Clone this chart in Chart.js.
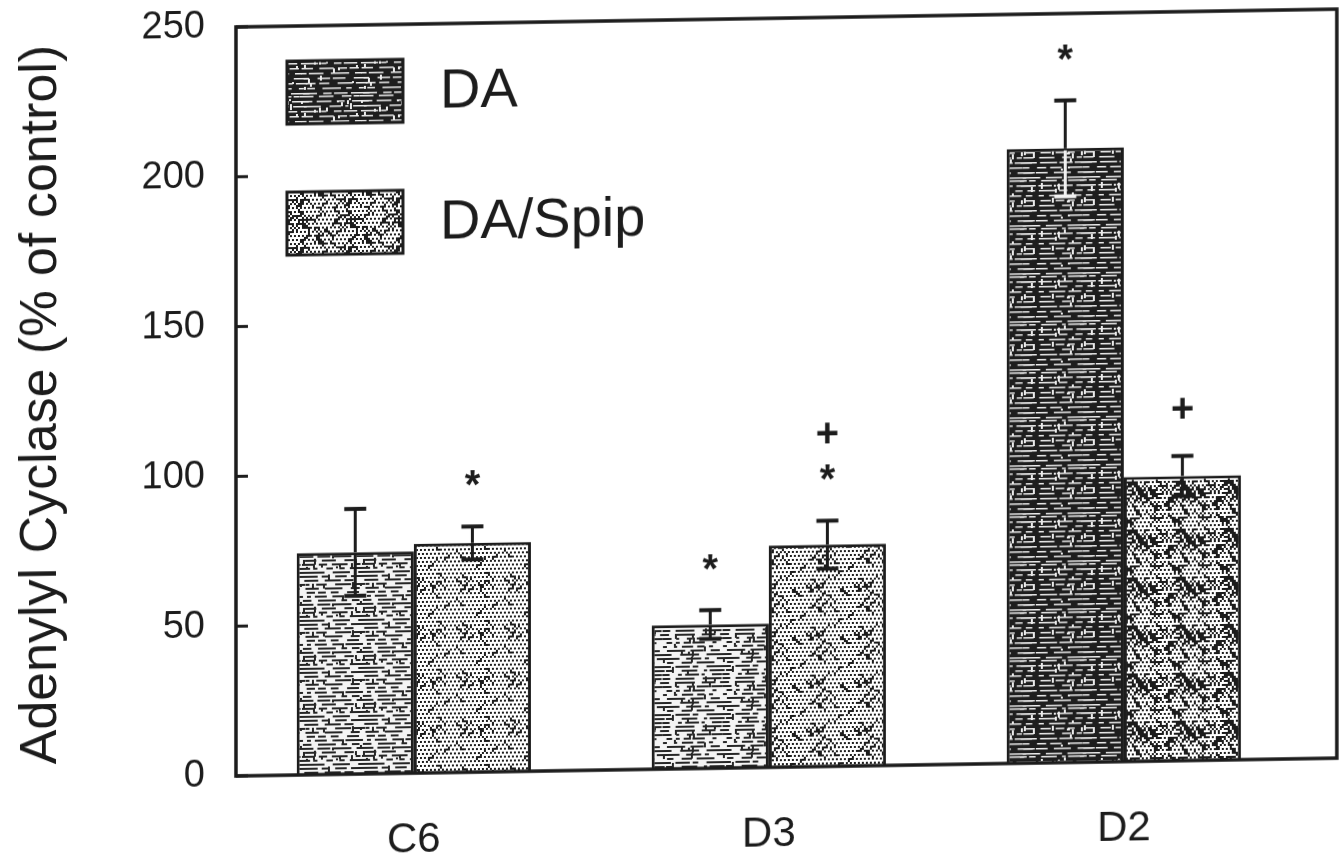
<!DOCTYPE html>
<html>
<head>
<meta charset="utf-8">
<script src="https://cdn.jsdelivr.net/npm/chart.js@4.4.1/dist/chart.umd.min.js"></script>
<style>
  html, body { margin: 0; padding: 0; background: #fff; }
  #wrap { width: 1343px; height: 866px; position: relative; }
  #myChart { transform: skewY(-0.93deg); transform-origin: 236px 0; }
</style>
</head>
<body>
<div id="wrap"><canvas id="myChart"></canvas></div>
<script>
const categories = ['C6', 'D3', 'D2'];
const daValues = [74, 48, 205];
const daErr = [14.5, 4.8, 16];
const spipValues = [76.5, 74, 95];
const spipErr = [5.5, 8, 6.7];
// significance symbols, listed from the bar upwards
const daMarks = [[], ['*'], ['*']];
const spipMarks = [['*'], ['*', '+'], ['+']];
const yTicks = [0, 50, 100, 150, 200, 250];

const INK = '#1c1c1c';
const FONT = '"Liberation Sans", Arial, sans-serif';

// little texture tiles, fill patterns for the bars
function seeded(s) {
  return function() { s = (s * 16807) % 2147483647; return s / 2147483647; };
}
function mazeTile(bg, fg, seed, rowGap, thick) {
  const c = document.createElement('canvas');
  c.width = 60; c.height = 48;
  const g = c.getContext('2d');
  const rnd = seeded(seed);
  g.fillStyle = bg; g.fillRect(0, 0, 60, 48);
  g.fillStyle = fg;
  for (let row = 0; row < 48; row += rowGap) {
    let x = rnd() * 8;
    while (x < 60) {
      const len = 3 + rnd() * 16;
      g.fillRect(x, row + 1, len, thick);
      if (x + len > 60) g.fillRect(x - 60, row + 1, len, thick);
      x += len + 2 + rnd() * 7;
    }
  }
  for (let i = 0; i < 18; i++) {
    g.fillRect(Math.floor(rnd() * 58), Math.floor(rnd() * 44), 2, 2 + Math.floor(rnd() * 5));
  }
  return g.createPattern(c, 'repeat');
}
function dotTile(density, seed) {
  const c = document.createElement('canvas');
  c.width = 48; c.height = 48;
  const g = c.getContext('2d');
  const rnd = seeded(seed);
  g.fillStyle = '#fff'; g.fillRect(0, 0, 48, 48);
  g.fillStyle = INK;
  for (let y = 0; y < 48; y += 4) {
    for (let x = (y / 4) % 2 ? 2 : 0; x < 48; x += 4) g.fillRect(x, y, 2, 2);
  }
  // diagonal zig-zag strokes
  for (let k = 0; k < density; k++) {
    const x0 = Math.floor(rnd() * 24) * 2, y0 = Math.floor(rnd() * 24) * 2;
    const dir = rnd() < 0.5 ? 1 : -1;
    for (let i = 0; i < 4; i++) {
      const x = (x0 + dir * i * 2 + 48) % 48, y = (y0 + i * 2) % 48;
      g.fillRect(x, y, 2, 2);
    }
  }
  return g.createPattern(c, 'repeat');
}

const daFill = [mazeTile('#f4f4f4', '#262626', 7, 4, 2), mazeTile('#f4f4f4', '#262626', 19, 4, 2), mazeTile('#1e1e1e', '#ececec', 31, 5, 1.5)];
const spipFill = [dotTile(14, 3), dotTile(18, 11), dotTile(55, 23)];
const legendFill = [mazeTile('#1e1e1e', '#ececec', 43, 5, 1.5), dotTile(40, 5)];
// whisker colour below the bar top (light on the dark bar)
const daWhiskerIn = [INK, INK, '#f2f2f2'];
const spipWhiskerIn = [INK, INK, INK];

const frame = {
  id: 'frame',
  afterDatasetsDraw(chart) {
    const ctx = chart.ctx, a = chart.chartArea, y = chart.scales.y;
    ctx.save();
    ctx.strokeStyle = INK;
    ctx.lineWidth = 3.5;
    ctx.strokeRect(a.left, a.top, a.right - a.left, a.bottom - a.top);
    ctx.lineWidth = 3;
    yTicks.forEach(v => {
      const py = y.getPixelForValue(v);
      ctx.beginPath(); ctx.moveTo(a.left, py); ctx.lineTo(a.left + 12, py); ctx.stroke();
    });
    ctx.restore();
  }
};

const errorBars = {
  id: 'errorBars',
  afterDatasetsDraw(chart) {
    const ctx = chart.ctx, y = chart.scales.y;
    ctx.save();
    chart.data.datasets.forEach((ds, i) => {
      chart.getDatasetMeta(i).data.forEach((bar, j) => {
        const v = ds.data[j].y, e = ds.errors[j];
        const hi = y.getPixelForValue(v + e), top = y.getPixelForValue(v), lo = y.getPixelForValue(v - e);
        ctx.strokeStyle = INK;
        ctx.lineWidth = 3;
        ctx.beginPath(); ctx.moveTo(bar.x, hi); ctx.lineTo(bar.x, top); ctx.stroke();
        ctx.lineWidth = 4;
        ctx.beginPath(); ctx.moveTo(bar.x - 11, hi); ctx.lineTo(bar.x + 11, hi); ctx.stroke();
        ctx.strokeStyle = ds.whiskerIn[j];
        ctx.lineWidth = 3;
        ctx.beginPath(); ctx.moveTo(bar.x, top + 2); ctx.lineTo(bar.x, lo); ctx.stroke();
        ctx.lineWidth = 4;
        ctx.beginPath(); ctx.moveTo(bar.x - 11, lo); ctx.lineTo(bar.x + 11, lo); ctx.stroke();

        ctx.fillStyle = INK;
        ctx.font = 'bold 40px ' + FONT;
        ctx.textAlign = 'center';
        ctx.textBaseline = 'alphabetic';
        ds.marks[j].forEach((s, k) => {
          const m = ctx.measureText(s);
          const cy = hi - 48 - k * 40;
          ctx.fillText(s, bar.x, cy + (m.actualBoundingBoxAscent - m.actualBoundingBoxDescent) / 2);
        });
      });
    });
    ctx.restore();
  }
};

const boxLegend = {
  id: 'boxLegend',
  afterDraw(chart) {
    const ctx = chart.ctx, a = chart.chartArea;
    ctx.save();
    chart.data.datasets.forEach((ds, i) => {
      const x = a.left + 51, top = a.top + 35 + i * 131;
      ctx.fillStyle = legendFill[i];
      ctx.fillRect(x, top, 116, 63);
      ctx.strokeStyle = INK;
      ctx.lineWidth = 3;
      ctx.strokeRect(x, top, 116, 63);
      ctx.fillStyle = INK;
      ctx.font = '56px ' + FONT;
      ctx.textAlign = 'left';
      ctx.textBaseline = 'middle';
      ctx.fillText(ds.label, x + 153, top + 34);
    });
    ctx.restore();
  }
};

function draw() {
  const ctx = document.getElementById('myChart');
  new Chart(ctx, {
    type: 'bar',
    data: {
      datasets: [{
        label: 'DA',
        data: daValues.map((v, i) => ({ x: i, y: v })),
        errors: daErr,
        marks: daMarks,
        whiskerIn: daWhiskerIn,
        backgroundColor: daFill,
        borderColor: INK,
        borderWidth: 3
      }, {
        label: 'DA/Spip',
        data: spipValues.map((v, i) => ({ x: i, y: v })),
        errors: spipErr,
        marks: spipMarks,
        whiskerIn: spipWhiskerIn,
        backgroundColor: spipFill,
        borderColor: INK,
        borderWidth: 3
      }]
    },
    options: {
      responsive: true,
      maintainAspectRatio: false,
      animation: false,
      categoryPercentage: 0.66,
      barPercentage: 1,
      layout: { padding: { top: 27, right: 6, left: 0, bottom: 0 } },
      plugins: { legend: { display: false }, tooltip: { enabled: false } },
      scales: {
        x: {
          type: 'linear',
          min: -0.501,
          max: 2.6,
          offset: false,
          grid: { display: false, drawTicks: false, offset: false },
          border: { display: false },
          afterBuildTicks: s => { s.ticks = categories.map((c, i) => ({ value: i })); },
          afterFit: s => { s.height = 90; s.paddingTop = 0; s.paddingBottom = 0; s.paddingLeft = 0; s.paddingRight = 0; },
          ticks: {
            autoSkip: false,
            padding: 42,
            color: INK,
            font: { family: FONT, size: 42 },
            callback: v => categories[v]
          }
        },
        y: {
          min: 0,
          max: 250,
          grid: { display: false, drawTicks: false },
          border: { display: false },
          afterBuildTicks: s => { s.ticks = yTicks.map(v => ({ value: v })); },
          afterFit: s => { s.width = 236; s.paddingTop = 0; s.paddingBottom = 0; },
          ticks: {
            padding: 31,
            color: INK,
            font: { family: FONT, size: 38 }
          },
          title: {
            display: true,
            text: 'Adenylyl Cyclase (% of control)',
            color: INK,
            padding: { top: 10, bottom: 0 },
            font: { family: FONT, size: 52 }
          }
        }
      }
    },
    plugins: [frame, errorBars, boxLegend]
  });
}
draw();
</script>
</body>
</html>
